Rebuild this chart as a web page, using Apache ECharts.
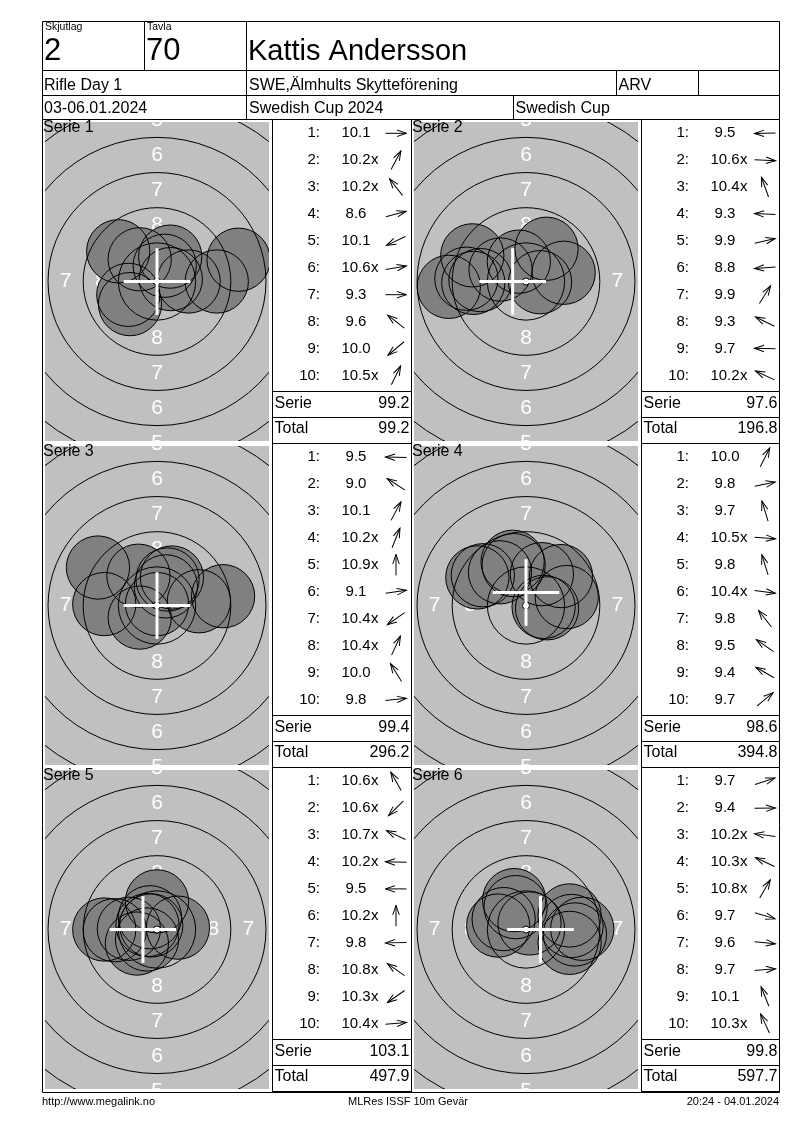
<!DOCTYPE html>
<html><head><meta charset="utf-8">
<script src="https://cdn.jsdelivr.net/npm/echarts@6/dist/echarts.min.js"></script>
<style>html,body{margin:0;padding:0;background:#fff}#c{width:800px;height:1130px}</style>
</head><body><div id="c"></div>
<script>
// ================= DATA =================
const serieNames = ['Serie 1','Serie 2','Serie 3','Serie 4','Serie 5','Serie 6'];

const scores1 = [10.1,10.2,10.2,8.6,10.1,10.6,9.3,9.6,10.0,10.5];
const scores2 = [9.5,10.6,10.4,9.3,9.9,8.8,9.9,9.3,9.7,10.2];
const scores3 = [9.5,9.0,10.1,10.2,10.9,9.1,10.4,10.4,10.0,9.8];
const scores4 = [10.0,9.8,9.7,10.5,9.8,10.4,9.8,9.5,9.4,9.7];
const scores5 = [10.6,10.6,10.7,10.2,9.5,10.2,9.8,10.8,10.3,10.4];
const scores6 = [9.7,9.4,10.2,10.3,10.8,9.7,9.6,9.7,10.1,10.3];

// inner ten ("x") flags
const inner1 = [0,1,1,0,0,1,0,0,0,1];
const inner2 = [0,1,1,0,0,0,0,0,0,1];
const inner3 = [0,0,0,1,1,0,1,1,0,0];
const inner4 = [0,0,0,1,0,1,0,0,0,0];
const inner5 = [1,1,1,1,0,1,0,1,1,1];
const inner6 = [0,0,1,1,1,0,0,0,0,1];

// shot centres in mm (x right, y up), read from the targets
const shotX1 = [2.25,0.94,-1.23,5.8,-2.04,0.98,4.25,-2.76,-1.92,0.55];
const shotY1 = [0.0,1.77,1.58,1.55,-0.95,0.17,0.0,2.15,-1.61,1.12];
const shotX2 = [-3.75,1.0,-0.51,-4.24,2.68,-5.49,1.46,-3.82,-3.24,-1.81];
const shotY2 = [-0.1,-0.05,1.41,0.2,0.62,-0.38,2.33,1.86,0.1,0.85];
const shotX3 = [-3.75,-4.2,1.06,0.75,0.0,4.7,-1.23,0.63,-1.32,2.98];
const shotY3 = [0.1,2.7,1.99,1.85,0.1,0.66,-0.86,1.36,2.12,0.3];
const shotX4 = [1.13,2.9,-0.95,1.25,-0.88,1.5,-1.85,-3.07,-3.46,2.49];
const shotY4 = [2.23,0.6,3.11,-0.1,2.87,-0.2,2.36,2.15,2.0,2.09];
const shotX5 = [-0.5,-0.71,-0.68,-2.0,-3.75,0.0,-3.0,-0.41,-1.43,1.49];
const shotY5 = [0.87,-0.71,0.32,0.05,0.0,2.0,-0.05,0.29,-1.0,0.13];
const shotX6 = [3.1,4.0,-1.98,-1.59,0.25,3.1,3.48,3.24,-0.84,-0.74];
const shotY6 = [1.0,0.05,0.28,0.74,0.43,-0.95,-0.35,0.25,2.09,1.59];

// mean point of impact cross (mm)
const mpiX = [0,-0.95,0,0,-1.0,1.03];
const mpiY = [0,0,0,0.92,0,0];

const serieTotals   = [99.2,97.6,99.4,98.6,103.1,99.8];
const runningTotals = [99.2,196.8,296.2,394.8,497.9,597.7];

// target geometry (mm) - ISSF 10m air rifle
const ringRadii = [2.75,5.25,7.75,10.25,12.75,15.25];
const tenDotRadius = 0.25;
const ringLabels = [8,7,6,5];
const ringLabelRadii = [4.0,6.5,9.0,11.5];
const pelletRadius = 2.25;
const crossHalf = 2.37;

// header / footer texts
const hdrSmall = ['Skjutlag','Tavla'];
const hdrBig = ['2','70','Kattis Andersson'];
const hdrRow2 = ['Rifle Day 1','SWE,Älmhults Skytteförening','ARV',''];
const hdrRow3 = ['03-06.01.2024','Swedish Cup 2024','Swedish Cup'];
const footer = ['http://www.megalink.no','MLRes ISSF 10m Gevär','20:24 - 04.01.2024'];

// ================= LAYOUT =================
const allScores=[scores1,scores2,scores3,scores4,scores5,scores6];
const allInner=[inner1,inner2,inner3,inner4,inner5,inner6];
const allX=[shotX1,shotX2,shotX3,shotX4,shotX5,shotX6];
const allY=[shotY1,shotY2,shotY3,shotY4,shotY5,shotY6];

const FONT='"Liberation Sans", Arial, Helvetica, sans-serif';
const PX=14.06;              // pixels per mm
const GW=224, GH=319;
const colGridLeft=[45,414];
const colListLeft=[272.5,641.5];
const colListRight=[411.5,779.5];
const rowTop=[119.5,443.5,767.5];

const chart=echarts.init(document.getElementById('c'),null,{renderer:'canvas'});

const clipOf=p=>({type:'rect',shape:{x:p.coordSys.x,y:p.coordSys.y,width:p.coordSys.width,height:p.coordSys.height}});

const labelData=[];
ringLabels.forEach((lab,k)=>{const m=ringLabelRadii[k];
  labelData.push([0,m,lab],[0,-m,lab],[-m,0,lab],[m,0,lab]);});

const grids=[],xAxes=[],yAxes=[],series=[];
for(let i=0;i<6;i++){
  const col=i%2,row=Math.floor(i/2);
  grids.push({left:colGridLeft[col],top:rowTop[row]+2.5,width:GW,height:GH,show:true,
    backgroundColor:'#C0C0C0',borderWidth:0,borderColor:'transparent'});
  xAxes.push({type:'value',gridIndex:i,min:-GW/2/PX,max:GW/2/PX,show:false});
  yAxes.push({type:'value',gridIndex:i,min:-GH/2/PX,max:GH/2/PX,show:false});
  const base={type:'custom',xAxisIndex:i,yAxisIndex:i,clip:true,silent:true,animation:false};
  const shots=allX[i].map((x,k)=>[x,allY[i][k]]);
  // ring numbers
  series.push(Object.assign({},base,{z:1,data:labelData,renderItem:(p,api)=>{
    const c=api.coord([api.value(0),api.value(1)]);
    return {type:'group',clipPath:clipOf(p),children:[{type:'text',x:c[0],y:c[1],
      style:{text:String(api.value(2)),fill:'#ffffff',font:'21px '+FONT,textAlign:'center',textVerticalAlign:'middle'}}]};
  }}));
  // shot fills
  series.push(Object.assign({},base,{z:2,data:shots,renderItem:(p,api)=>{
    const c=api.coord([api.value(0),api.value(1)]);const r=api.size([pelletRadius,0])[0];
    return {type:'circle',shape:{cx:c[0],cy:c[1],r:r},style:{fill:'#808080',stroke:null}};
  }}));
  // ring lines
  series.push(Object.assign({},base,{z:3,data:ringRadii.map(r=>[0,0,r]),renderItem:(p,api)=>{
    const c=api.coord([api.value(0),api.value(1)]);const r=api.size([api.value(2),0])[0];
    return {type:'group',clipPath:clipOf(p),children:[{type:'circle',shape:{cx:c[0],cy:c[1],r:r},
      style:{fill:null,stroke:'#000',lineWidth:1}}]};
  }}));
  // shot outlines
  series.push(Object.assign({},base,{z:4,data:shots,renderItem:(p,api)=>{
    const c=api.coord([api.value(0),api.value(1)]);const r=api.size([pelletRadius,0])[0];
    return {type:'circle',shape:{cx:c[0],cy:c[1],r:r},style:{fill:null,stroke:'#000',lineWidth:1}};
  }}));
  // ten dot
  series.push(Object.assign({},base,{z:5,data:[[0,0,tenDotRadius]],renderItem:(p,api)=>{
    const c=api.coord([api.value(0),api.value(1)]);const r=api.size([api.value(2),0])[0];
    return {type:'circle',shape:{cx:c[0],cy:c[1],r:r},style:{fill:'#fff',stroke:'#000',lineWidth:1}};
  }}));
  // MPI cross
  series.push(Object.assign({},base,{z:6,data:[[mpiX[i],mpiY[i]]],renderItem:(p,api)=>{
    const x=api.value(0),y=api.value(1);
    const a=api.coord([x-crossHalf,y]),b=api.coord([x+crossHalf,y]);
    const c=api.coord([x,y+crossHalf]),d=api.coord([x,y-crossHalf]);
    return {type:'group',children:[
      {type:'line',shape:{x1:a[0],y1:a[1],x2:b[0],y2:b[1]},style:{stroke:'#fff',lineWidth:3}},
      {type:'line',shape:{x1:c[0],y1:c[1],x2:d[0],y2:d[1]},style:{stroke:'#fff',lineWidth:3}}]};
  }}));
}

// ================= TABLE GRAPHICS =================
const g=[];
function ln(x1,y1,x2,y2){g.push({type:'line',z:100,silent:true,shape:{x1,y1,x2,y2},style:{stroke:'#000',lineWidth:1}});}
function tx(x,y,t,size,align){g.push({type:'text',z:101,silent:true,x:x,y:y,
  style:{text:t,font:size+'px '+FONT,fill:'#000',textAlign:align||'left',textVerticalAlign:'middle'}});}

ln(42.5,21.5,779.5,21.5);
ln(42.5,21.5,42.5,1092.5); ln(779.5,21.5,779.5,1092.5); ln(42.5,1092.5,779.5,1092.5);
ln(144.5,21.5,144.5,70.5); ln(246.5,21.5,246.5,119.5);
[70.5,95.5,119.5].forEach(y=>ln(42.5,y,779.5,y));
ln(616.5,70.5,616.5,95.5); ln(698.5,70.5,698.5,95.5); ln(513.5,95.5,513.5,119.5);
[272.5,411.5,641.5].forEach(x=>ln(x,119.5,x,1092.5));

tx(45,27,hdrSmall[0],10.5); tx(147,27,hdrSmall[1],10.5);
tx(44,51.5,hdrBig[0],31); tx(146,51.5,hdrBig[1],31); tx(248,51.5,hdrBig[2],29);
tx(44,85.5,hdrRow2[0],16); tx(249,85.5,hdrRow2[1],16); tx(618.5,85.5,hdrRow2[2],16);
tx(44,108.5,hdrRow3[0],16); tx(249,108.5,hdrRow3[1],16); tx(515.5,108.5,hdrRow3[2],16);

function arrow(cx,cy,ang){
  g.push({type:'group',z:101,silent:true,x:cx,y:cy,rotation:ang,children:[
    {type:'line',shape:{x1:-10.5,y1:0,x2:10.5,y2:0},style:{stroke:'#000',lineWidth:1}},
    {type:'polyline',shape:{points:[[1,-3.2],[10.5,0],[1,3.2]]},style:{stroke:'#000',fill:null,lineWidth:1}}]});
}

for(let i=0;i<6;i++){
  const col=i%2,row=Math.floor(i/2);
  const L=colListLeft[col],R=colListRight[col],T=rowTop[row];
  tx(colGridLeft[col]-2,T+8,serieNames[i],16);
  ln(L,T+272,R,T+272); ln(L,T+298,R,T+298); ln(L,T+324,R,T+324);
  for(let k=0;k<10;k++){
    const y=T+13.8+26.9*k;
    tx(L+47.5,y,(k+1)+':',15,'right');
    tx(L+83.5,y,allScores[i][k].toFixed(1),15,'center');
    if(allInner[i][k]) tx(L+98.5,y,'x',15,'left');
    arrow(L+123.5,y,Math.atan2(allY[i][k],allX[i][k]));
  }
  tx(L+2,T+284,'Serie',16); tx(R-2,T+284,serieTotals[i].toFixed(1),16,'right');
  tx(L+2,T+309,'Total',16); tx(R-2,T+309,runningTotals[i].toFixed(1),16,'right');
}

tx(42,1102,footer[0],11); tx(408,1102,footer[1],11,'center'); tx(779,1102,footer[2],11,'right');

chart.setOption({
  animation:false,
  backgroundColor:'#ffffff',
  grid:grids, xAxis:xAxes, yAxis:yAxes, series:series,
  graphic:{elements:g}
});
</script></body></html>
